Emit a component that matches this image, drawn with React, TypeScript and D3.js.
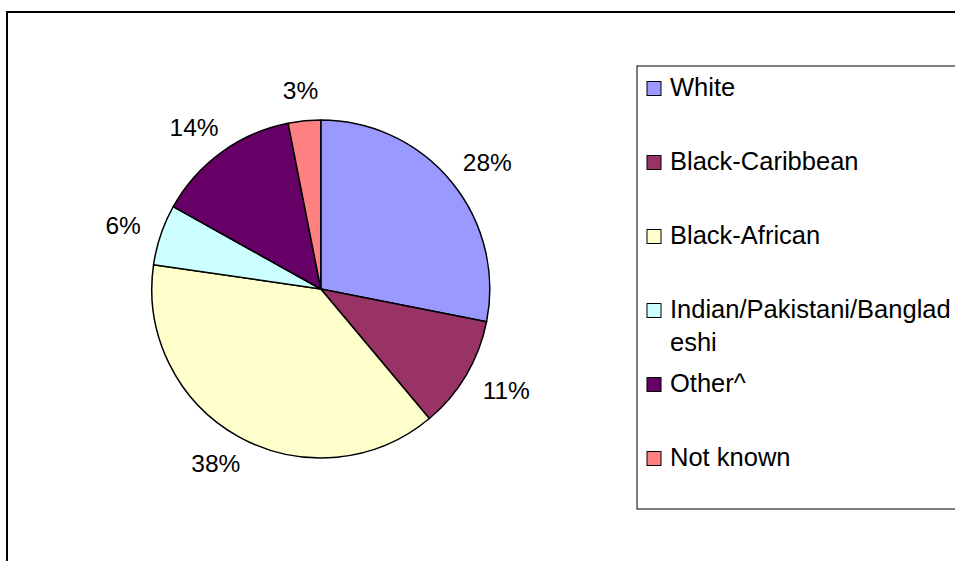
import React from "react";
import * as d3 from "d3";

const categories = ["White", "Black-Caribbean", "Black-African", "Indian/Pakistani/Bangladeshi", "Other^", "Not known"];
const values = [28.1, 10.8, 38.4, 5.8, 13.8, 3.1];
const legendLines = [["White"], ["Black-Caribbean"], ["Black-African"], ["Indian/Pakistani/Banglad", "eshi"], ["Other^"], ["Not known"]];
const colors = ["#9999FF", "#993366", "#FFFFCC", "#CCFFFF", "#660066", "#FF8080"];

const W = 955;
const H = 561;
const cx = 320.8;
const cy = 289;
const R = 169;
const labelFont = 24.5;
const legendFont = 25.5;
const font = "'Liberation Sans', Arial, sans-serif";

export default function App() {
  const pie = d3.pie<number>().sort(null).value((d) => d);
  const arcs = pie(values);
  const arc = d3.arc<d3.PieArcDatum<number>>().innerRadius(0).outerRadius(R);

  const labels = arcs.map((a, i) => {
    const mid = (a.startAngle + a.endAngle) / 2;
    const dx = Math.sin(mid);
    const dy = -Math.cos(mid);
    const text = `${Math.round(values[i])}%`;
    const w = (text.length - 1) * 0.556 * labelFont + 0.889 * labelFont;
    const h = 17.5;
    const rr = R + 22;
    const x = cx + dx * rr + dx * (w / 2);
    const y = cy + dy * rr + dy * (h / 2);
    return { x, y: y + h / 2, text };
  });

  const legendX = 637;
  const legendTop = 66;
  const legendBottom = 509;
  const firstBase = 95.5;
  const step = 74;

  return (
    <svg width={W} height={H} style={{ position: "absolute", left: 0, top: 0 }} fontFamily={font}>
      <rect x={0} y={0} width={W} height={H} fill="#ffffff" />
      <rect x={7} y={12} width={W + 20} height={H + 20} fill="#ffffff" stroke="#000" strokeWidth={2} />
      <g transform={`translate(${cx},${cy})`}>
        {arcs.map((a, i) => (
          <path key={i} d={arc(a) || ""} fill={colors[i]} stroke="#000" strokeWidth={1.5} strokeLinejoin="round" />
        ))}
      </g>
      {labels.map((l, i) => (
        <text key={i} x={l.x} y={l.y} textAnchor="middle" fontSize={labelFont} fill="#000">
          {l.text}
        </text>
      ))}
      <rect x={legendX} y={legendTop} width={W} height={legendBottom - legendTop} fill="#ffffff" stroke="#000" strokeWidth={1} />
      {categories.map((c, i) => {
        const base = firstBase + i * step;
        return (
          <g key={c}>
            <rect x={647} y={base - 14} width={14} height={14} fill={colors[i]} stroke="#000" strokeWidth={1} />
            {legendLines[i].map((ln, j) => (
              <text key={j} x={670} y={base + j * 33} fontSize={legendFont} fill="#000">
                {ln}
              </text>
            ))}
          </g>
        );
      })}
    </svg>
  );
}
